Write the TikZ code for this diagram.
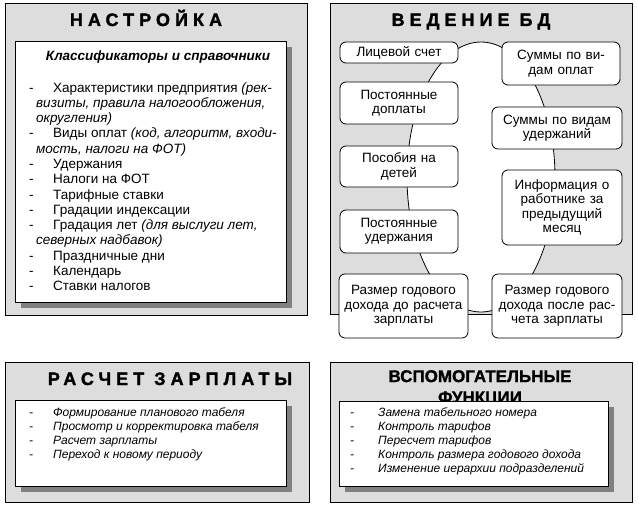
\documentclass[tikz,border=0pt]{standalone}
\usepackage{fontspec}
\setmainfont{Liberation Sans}
\newfontfamily\spacedfont[LetterSpace=28, BoldFeatures={FakeBold=1.6}]{Liberation Sans}
\newfontfamily\heavyfont[BoldFeatures={FakeBold=1.2}]{Liberation Sans}
\usetikzlibrary{shadows}
\definecolor{panelgray}{RGB}{221,221,221}
\definecolor{shadowgray}{RGB}{128,128,128}

\newcommand{\dashitem}[2][24pt]{\makebox[#1][l]{-}#2}

\begin{document}
\begin{tikzpicture}[x=1pt, y=-1pt,
    panel/.style={draw, fill=panelgray, line width=0.8pt, anchor=north west, inner sep=0pt},
    listbox/.style={draw, fill=white, line width=0.8pt, anchor=north west, inner sep=0pt,
      drop shadow={shadow xshift=6pt, shadow yshift=-6pt, fill=shadowgray, opacity=1}},
    card/.style={draw, fill=white, line width=0.8pt, rounded corners=6pt, align=center,
      inner sep=2pt, font=\fontsize{13.5}{14.5}\selectfont},
    headline/.style={font=\spacedfont\bfseries\fontsize{18}{20}\selectfont, anchor=base, inner sep=0pt},
    listtext/.style={anchor=base west, inner sep=0pt, font=\fontsize{13.5}{15.3}\selectfont},
    smalllist/.style={anchor=base west, inner sep=0pt, font=\itshape\fontsize{12}{14.2}\selectfont}]
    \useasboundingbox (0,0) rectangle (638,506);

    % panels
    \node[panel, minimum width=302pt, minimum height=312pt] (setpanel) at (5,3) {};
    \node[panel, minimum width=302pt, minimum height=311pt] (dbpanel) at (330,3) {};
    \node[panel, minimum width=304pt, minimum height=140pt] (calcpanel) at (5,362) {};
    \node[panel, minimum width=302pt, minimum height=140pt] (auxpanel) at (330,362) {};

    % titles
    \node[headline] (settitle) at (146,26) {НАСТРОЙКА};
    \node[headline] (dbtitle) at (471,26) {ВЕДЕНИЕ БД};
    \node[headline] (calctitle) at (170,385) {РАСЧЕТ ЗАРПЛАТЫ};
    \node[font=\heavyfont\bfseries\fontsize{17}{21}\selectfont, align=center, anchor=north, inner sep=0pt]
        (auxtitle) at (480,370) {ВСПОМОГАТЕЛЬНЫЕ\\ФУНКЦИИ};

    % setup list
    \node[listbox, minimum width=271pt, minimum height=261pt] (setbox) at (15,41) {};
    \node[anchor=base, inner sep=0pt, font=\bfseries\itshape\fontsize{13.5}{15}\selectfont]
        (sethead) at (158,60) {Классификаторы и справочники};
    \node[listtext] (setlist) at (29,92) {\begin{tabular}[t]{@{}l@{}}
        \dashitem{Характеристики предприятия \textit{(рек-}}\\
        \hspace*{7pt}\textit{визиты, правила налогообложения,}\\
        \hspace*{7pt}\textit{округления)}\\
        \dashitem{Виды оплат \textit{(код, алгоритм, входи-}}\\
        \hspace*{7pt}\textit{мость, налоги на ФОТ)}\\
        \dashitem{Удержания}\\
        \dashitem{Налоги на ФОТ}\\
        \dashitem{Тарифные ставки}\\
        \dashitem{Градации индексации}\\
        \dashitem{Градация лет \textit{(для выслуги лет,}}\\
        \hspace*{7pt}\textit{северных надбавок)}\\
        \dashitem{Праздничные дни}\\
        \dashitem{Календарь}\\
        \dashitem{Ставки налогов}
    \end{tabular}};

    % database ring
    \draw[fill=white, line width=0.8pt] (481,177) ellipse [x radius=74, y radius=135];
    \node[card, text width=114pt, minimum height=21pt, inner ysep=0pt] (acct) at (399,52.5) {Лицевой счет};
    \node[card, text width=114pt, minimum height=43pt] (paysum) at (561,63.5) {Суммы по ви-\\дам оплат};
    \node[card, text width=114pt, minimum height=42pt] (addpay) at (399,103) {Постоянные\\доплаты};
    \node[card, text width=126pt, minimum height=42pt] (dedsum) at (557,128) {Суммы по видам\\удержаний};
    \node[card, text width=114pt, minimum height=41pt] (benefit) at (399,166.5) {Пособия на\\детей};
    \node[card, text width=116pt, minimum height=75pt] (previnfo) at (562,207.5) {Информация о\\работнике за\\предыдущий\\месяц};
    \node[card, text width=114pt, minimum height=43pt] (fixded) at (399,231.5) {Постоянные\\удержания};
    \node[card, text width=125pt, minimum height=64pt] (incbefore) at (403.5,306) {Размер годового\\дохода до расчета\\зарплаты};
    \node[card, text width=126pt, minimum height=64pt] (incafter) at (557,306) {Размер годового\\дохода после рас-\\чета зарплаты};

    % payroll list
    \node[listbox, minimum width=271pt, minimum height=86pt] (calcbox) at (15,400) {};
    \node[smalllist] (calclist) at (29,416) {\begin{tabular}[t]{@{}l@{}}
        \dashitem{Формирование планового табеля}\\
        \dashitem{Просмотр и корректировка табеля}\\
        \dashitem{Расчет зарплаты}\\
        \dashitem{Переход к новому периоду}
    \end{tabular}};

    % service list
    \node[listbox, minimum width=269pt, minimum height=85pt] (auxbox) at (339,401) {};
    \node[smalllist] (auxlist) at (350,416) {\begin{tabular}[t]{@{}l@{}}
        \dashitem[28pt]{Замена табельного номера}\\
        \dashitem[28pt]{Контроль тарифов}\\
        \dashitem[28pt]{Пересчет тарифов}\\
        \dashitem[28pt]{Контроль размера годового дохода}\\
        \dashitem[28pt]{Изменение иерархии подразделений}
    \end{tabular}};
\end{tikzpicture}
\end{document}
